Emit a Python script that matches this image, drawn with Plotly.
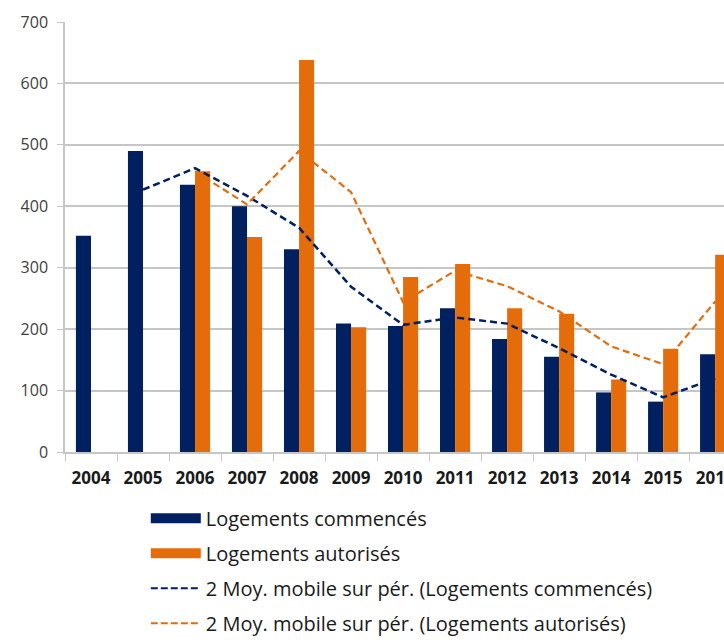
import plotly.graph_objects as go

years = ["2004", "2005", "2006", "2007", "2008", "2009", "2010",
         "2011", "2012", "2013", "2014", "2015", "2016"]
commences = [352, 490, 435, 400, 330, 209, 205, 234, 184, 155, 97, 82, 159]
autorises = [None, None, 457, 350, 638, 203, 285, 306, 234, 225, 118, 168, 321]
ma_commences = [None, 427, 462, 417, 365, 269, 207, 219, 209, 169, 126, 89, 120]
ma_autorises = [None, None, 457, 403, 490, 423, 244, 295, 270, 229, 172, 143, 245]

NAVY = "#002060"
ORANGE = "#E46C0A"
GRID = "#C6C6C6"
FONT = "Open Sans, Liberation Sans, Arial, sans-serif"

fig = go.Figure()
fig.add_trace(go.Bar(x=years, y=commences, name="Logements commencés",
                     marker=dict(color=NAVY, line=dict(width=0)), showlegend=False))
fig.add_trace(go.Bar(x=years, y=autorises, name="Logements autorisés",
                     marker=dict(color=ORANGE, line=dict(width=0)), showlegend=False))
fig.add_trace(go.Scatter(x=years, y=ma_commences, mode="lines", showlegend=False,
                         line=dict(color=NAVY, width=2.5, dash="7px,4px")))
fig.add_trace(go.Scatter(x=years, y=ma_autorises, mode="lines", showlegend=False,
                         line=dict(color=ORANGE, width=2.2, dash="7px,4px")))

# legend entries
fig.add_trace(go.Scatter(x=[None], y=[None], mode="lines", name="Logements commencés",
                         line=dict(color=NAVY, width=10), legendgroup="a"))
fig.add_trace(go.Scatter(x=[None], y=[None], mode="lines", name="Logements autorisés",
                         line=dict(color=ORANGE, width=10), legendgroup="b"))
fig.add_trace(go.Scatter(x=[None], y=[None], mode="lines",
                         name="2 Moy. mobile sur pér. (Logements commencés)",
                         line=dict(color=NAVY, width=2, dash="7px,3px"), legendgroup="c"))
fig.add_trace(go.Scatter(x=[None], y=[None], mode="lines",
                         name="2 Moy. mobile sur pér. (Logements autorisés)",
                         line=dict(color=ORANGE, width=2, dash="7px,3px"), legendgroup="d"))

fig.update_layout(
    width=724, height=643,
    margin=dict(l=65, r=0, t=22, b=191, autoexpand=False),
    paper_bgcolor="white", plot_bgcolor="white",
    barmode="group", bargap=0.42, bargroupgap=0,
    font=dict(family=FONT, color="#262626"),
    legend=dict(x=0.1226, y=-0.109, xanchor="left", yanchor="top",
                font=dict(size=20, color="#1a1a1a", family=FONT), tracegroupgap=6,
                itemwidth=50, bgcolor="rgba(0,0,0,0)"),
    xaxis=dict(type="category", range=[-0.5, 12.17], showline=True, linecolor=GRID,
               linewidth=1.5, ticks="outside", tickson="boundaries", ticklen=7,
               tickcolor=GRID, showgrid=False, automargin=False, ticklabelstandoff=10,
               tickfont=dict(size=17, color="#1a1a1a", family=FONT),
               tickprefix="<b>", ticksuffix="</b>"),
    yaxis=dict(range=[0, 700], dtick=100, showgrid=True, gridcolor=GRID, gridwidth=1.5,
               showline=True, linecolor=GRID, linewidth=1.5, ticks="outside", ticklen=6,
               tickcolor=GRID, zeroline=False, automargin=False, ticklabelstandoff=6,
               tickfont=dict(size=16, color="#404040", family=FONT)),
)

fig.write_html(
    "out.html",
    config={"displayModeBar": False},
    post_script="document.body.style.margin='0px';document.body.style.overflow='hidden';",
)
